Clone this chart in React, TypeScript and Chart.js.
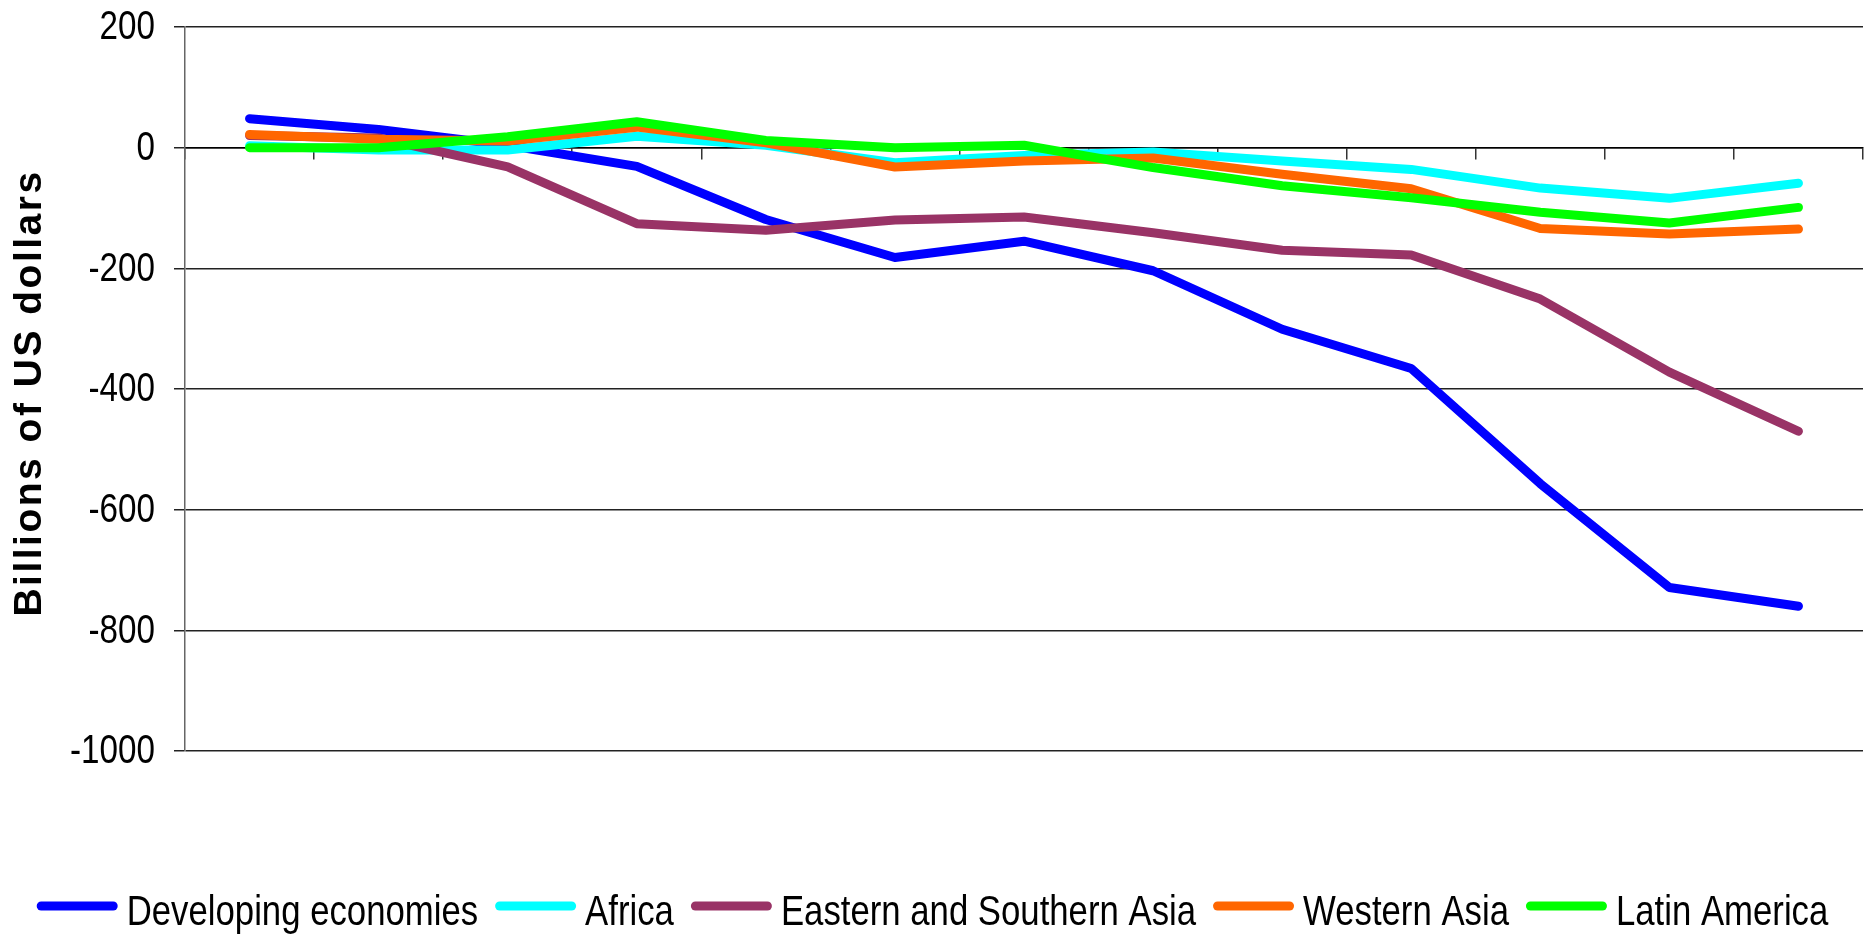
import React, { useEffect, useRef } from 'react';
import { Chart, registerables } from 'chart.js';

Chart.register(...registerables);

const categories: string[] = ['', '', '', '', '', '', '', '', '', '', '', '', ''];

const seriesNames = [
  'Developing economies',
  'Africa',
  'Eastern and Southern Asia',
  'Western Asia',
  'Latin America',
];

const developingEconomies = [48, 30, 4, -31, -119, -182, -155, -204, -301, -366, -557, -729, -760];
const africa = [3, -4, -4, 19, 4, -25, -13, -7, -22, -36, -67, -84, -59];
const easternSouthernAsia = [20, 16, -32, -126, -137, -120, -115, -141, -170, -178, -251, -372, -470];
const westernAsia = [22, 14, 11, 34, 8, -32, -22, -17, -44, -68, -134, -143, -135];
const latinAmerica = [0, 0, 18, 43, 12, 0, 4, -33, -63, -83, -107, -125, -99];

const seriesColors = ['#0000FF', '#00FFFF', '#993366', '#FF6600', '#00FF00'];

const yMin = -1000;
const yMax = 200;
const yStep = 200;

const yTitle = 'Billions of US dollars';

const SANS = "'Liberation Sans', Arial, sans-serif";
const TICK_SCALE = 0.81;
const LEGEND_SCALE = 0.827;

const titlePlugin = {
  id: 'yTitlePlugin',
  afterDraw(chart: any) {
    const ctx = chart.ctx as CanvasRenderingContext2D;
    ctx.save();
    ctx.translate(30, 393);
    ctx.rotate(-Math.PI / 2);
    ctx.font = `bold 39px ${SANS}`;
    (ctx as any).letterSpacing = '2.5px';
    ctx.fillStyle = '#000';
    ctx.textAlign = 'center';
    ctx.textBaseline = 'middle';
    ctx.fillText(yTitle, 0, 0);
    ctx.restore();
  },
};

const yLabelPlugin = {
  id: 'yLabelPlugin',
  afterDraw(chart: any) {
    const ctx = chart.ctx as CanvasRenderingContext2D;
    const scale = chart.scales.y;
    ctx.save();
    ctx.font = `41px ${SANS}`;
    ctx.fillStyle = '#000';
    ctx.textAlign = 'right';
    ctx.textBaseline = 'middle';
    ctx.scale(TICK_SCALE, 1);
    for (const t of scale.ticks) {
      const y = scale.getPixelForValue(t.value);
      ctx.fillText(String(t.value), 155 / TICK_SCALE, y + 1);
    }
    ctx.restore();
  },
};

const legendPlugin = {
  id: 'lineLegendPlugin',
  afterDraw(chart: any) {
    const ctx = chart.ctx as CanvasRenderingContext2D;
    ctx.save();
    ctx.font = `42px ${SANS}`;
    const items = chart.data.datasets.map((ds: any) => ({
      label: ds.label as string,
      color: ds.borderColor as string,
      w: ctx.measureText(ds.label).width * LEGEND_SCALE,
    }));
    const lineLen = 81;
    const gap = 9;
    const sep = 17;
    const total =
      items.reduce((s: number, it: any) => s + lineLen + gap + it.w, 0) + sep * (items.length - 1);
    let x = (chart.width - total) / 2;
    const lineY = 906;
    const textY = 925;
    for (const it of items) {
      ctx.strokeStyle = it.color;
      ctx.lineWidth = 9;
      ctx.lineCap = 'round';
      ctx.beginPath();
      ctx.moveTo(x + 4.5, lineY);
      ctx.lineTo(x + lineLen - 4.5, lineY);
      ctx.stroke();
      ctx.save();
      ctx.fillStyle = '#000';
      ctx.textAlign = 'left';
      ctx.textBaseline = 'alphabetic';
      ctx.scale(LEGEND_SCALE, 1);
      ctx.fillText(it.label, (x + lineLen + gap) / LEGEND_SCALE, textY);
      ctx.restore();
      x += lineLen + gap + it.w + sep;
    }
    ctx.restore();
  },
};

export default function App() {
  const canvasRef = useRef<HTMLCanvasElement | null>(null);

  useEffect(() => {
    if (!canvasRef.current) return;
    const allData = [developingEconomies, africa, easternSouthernAsia, westernAsia, latinAmerica];
    const chart = new Chart(canvasRef.current, {
      type: 'line',
      data: {
        labels: categories,
        datasets: allData.map((d, i) => ({
          label: seriesNames[i],
          data: d,
          borderColor: seriesColors[i],
          backgroundColor: seriesColors[i],
          borderWidth: 9,
          borderCapStyle: 'round',
          borderJoinStyle: 'round',
          pointRadius: 0,
          pointHoverRadius: 0,
          tension: 0,
          fill: false,
          order: allData.length - 1 - i,
        })),
      },
      options: {
        animation: false,
        responsive: true,
        maintainAspectRatio: false,
        layout: { padding: { left: 0, right: 2, top: 27, bottom: 185 } },
        plugins: {
          legend: { display: false },
          tooltip: { enabled: false },
          title: { display: false },
        },
        scales: {
          x: {
            type: 'category',
            position: { y: 0 } as any,
            offset: true,
            ticks: { display: false },
            grid: {
              offset: true,
              drawOnChartArea: false,
              drawTicks: true,
              tickLength: 11,
              color: '#333',
              lineWidth: 1.5,
            },
            border: { display: true, color: '#000', width: 1.5 },
            afterFit: (scale: any) => {
              scale.height = 0;
            },
          },
          y: {
            min: yMin,
            max: yMax,
            ticks: {
              stepSize: yStep,
              display: false,
            },
            grid: {
              color: '#222',
              lineWidth: 1.5,
              drawTicks: true,
              tickLength: 11,
            },
            border: { display: true, color: '#666', width: 1.5 },
            afterFit: (scale: any) => {
              scale.width = 185;
            },
          },
        },
      },
      plugins: [titlePlugin, yLabelPlugin, legendPlugin],
    } as any);
    return () => chart.destroy();
  }, []);

  return (
    <div style={{ position: 'fixed', left: 0, top: 0, width: '1865px', height: '936px', background: '#fff' }}>
      <canvas ref={canvasRef} />
    </div>
  );
}
